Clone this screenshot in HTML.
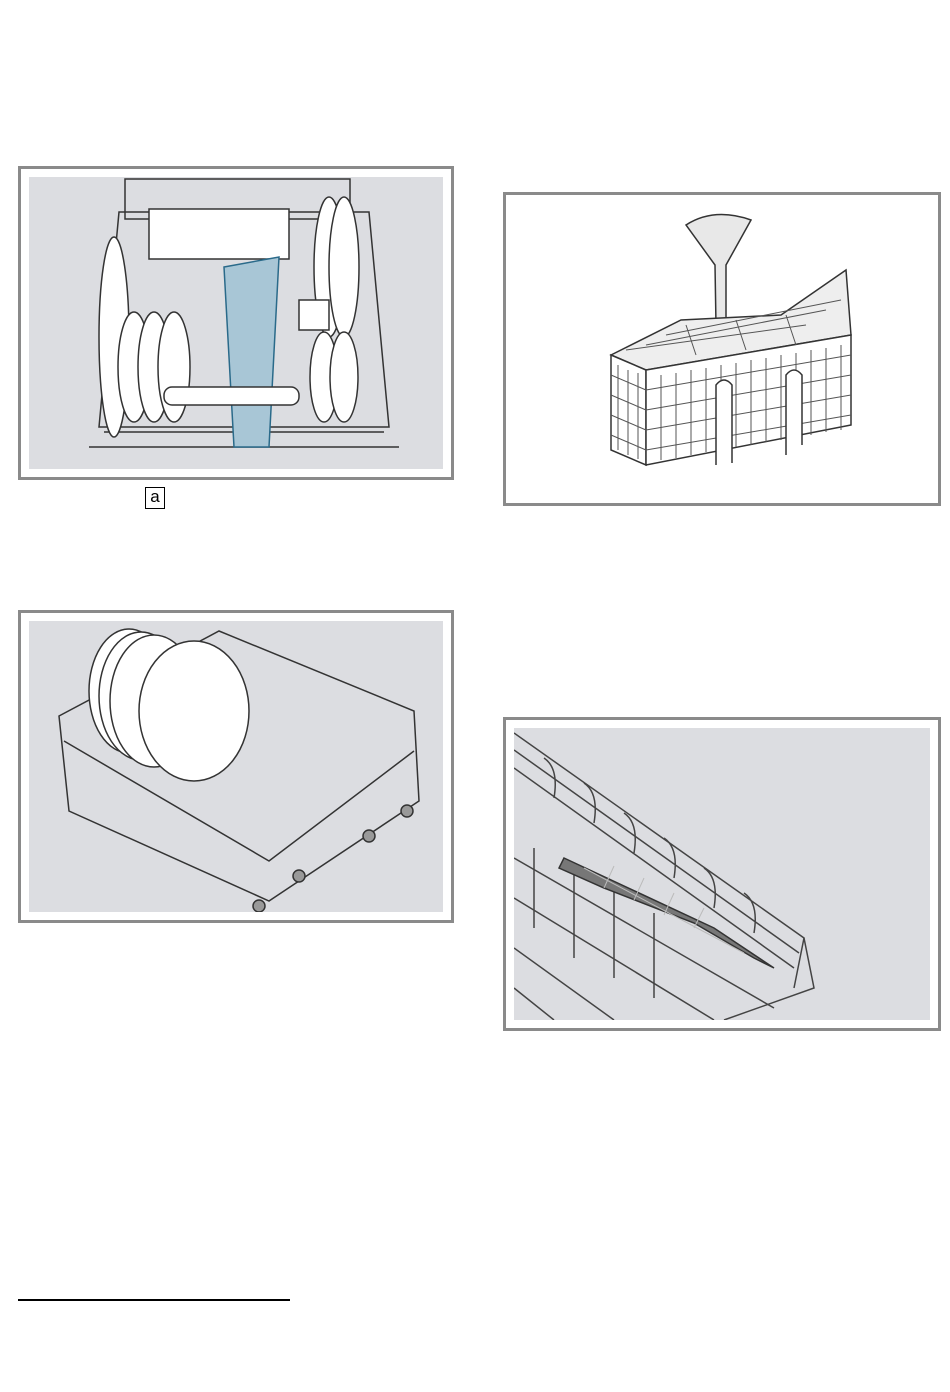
<!DOCTYPE html>
<html><head><meta charset="utf-8"><style>
body{margin:0;width:950px;height:1392px;background:#fff;position:relative;overflow:hidden;font-family:"Liberation Sans",sans-serif}
.f{position:absolute;border:3px solid #8a8a8a;box-sizing:border-box;background:#fff}
.g{position:absolute;background:#dcdde1}
</style></head><body>
<div class="f" style="left:18px;top:166px;width:436px;height:314px"></div>
<div class="g" style="left:29px;top:177px;width:414px;height:292px"></div>
<svg style="position:absolute;left:29px;top:177px" width="414" height="292" fill="none" stroke="#333" stroke-width="1.5">
<rect x="96" y="2" width="225" height="40"/>
<path d="M90 35 L70 250 L360 250 L340 35 Z"/>
<path d="M60 270 L370 270 M75 255 L355 255"/>
<rect x="120" y="32" width="140" height="50" fill="#fff"/>
<ellipse cx="85" cy="160" rx="15" ry="100" fill="#fff"/>
<ellipse cx="300" cy="90" rx="15" ry="70" fill="#fff"/>
<ellipse cx="315" cy="90" rx="15" ry="70" fill="#fff"/>
<ellipse cx="105" cy="190" rx="16" ry="55" fill="#fff"/>
<ellipse cx="125" cy="190" rx="16" ry="55" fill="#fff"/>
<ellipse cx="145" cy="190" rx="16" ry="55" fill="#fff"/>
<ellipse cx="295" cy="200" rx="14" ry="45" fill="#fff"/>
<ellipse cx="315" cy="200" rx="14" ry="45" fill="#fff"/>
<path d="M195 90 L250 80 L240 270 L205 270 Z" fill="#a8c6d6" stroke="#2a6a8a"/>
<rect x="135" y="210" width="135" height="18" rx="8" fill="#fff"/>
<rect x="270" y="123" width="30" height="30" fill="#fff"/>
</svg>
<div style="position:absolute;left:145px;top:487px;width:20px;height:22px;border:1px solid #000;box-sizing:border-box;font-size:17px;line-height:18px;text-align:center">a</div>

<div class="f" style="left:503px;top:192px;width:438px;height:314px"></div>
<svg style="position:absolute;left:506px;top:195px" width="432" height="308" fill="none" stroke="#333" stroke-width="1.5">
<path d="M209 70 L180 30 Q208 12 245 25 L220 70 L220 130 L210 130 Z" fill="#e8e8e8"/>
<path d="M105 160 L175 125 L275 120 L340 75 L345 140 L140 175 Z" fill="#eee"/>
<path d="M105 160 L140 175 L140 270 L105 255 Z" fill="#fff"/>
<path d="M140 175 L345 140 L345 230 L140 270 Z" fill="#fff"/>
<g stroke="#555" stroke-width="1">
<path d="M155 180 V265 M170 178 V263 M185 175 V260 M200 173 V257 M215 170 V255 M230 168 V252 M245 165 V250 M260 163 V247 M275 160 V245 M290 158 V242 M305 155 V240 M320 153 V237 M335 150 V235"/>
<path d="M140 195 L345 160 M140 215 L345 180 M140 235 L345 200 M140 255 L345 220"/>
<path d="M112 170 V255 M122 175 V260 M132 178 V264 M105 180 L140 195 M105 200 L140 215 M105 220 L140 235 M105 240 L140 255"/>
<path d="M120 155 L300 130 M140 150 L320 115 M160 140 L335 105 M180 130 L190 160 M230 125 L240 155 M280 120 L290 150"/>
</g>
<path d="M210 270 L210 190 Q218 180 226 190 L226 268 M280 260 L280 180 Q288 170 296 180 L296 250" fill="#fff"/>
</svg>

<div class="f" style="left:18px;top:610px;width:436px;height:313px"></div>
<div class="g" style="left:29px;top:621px;width:414px;height:291px"></div>
<svg style="position:absolute;left:29px;top:621px" width="414" height="291" fill="none" stroke="#333" stroke-width="1.5">
<path d="M30 95 L190 10 L385 90 L390 180 L240 280 L40 190 Z"/>
<path d="M35 120 L240 240 L385 130"/>
<ellipse cx="100" cy="70" rx="40" ry="62" fill="#fff"/>
<ellipse cx="112" cy="75" rx="42" ry="64" fill="#fff"/>
<ellipse cx="125" cy="80" rx="44" ry="66" fill="#fff"/>
<ellipse cx="165" cy="90" rx="55" ry="70" fill="#fff"/>
<circle cx="230" cy="285" r="6" fill="#999"/><circle cx="270" cy="255" r="6" fill="#999"/>
<circle cx="340" cy="215" r="6" fill="#999"/><circle cx="378" cy="190" r="6" fill="#999"/>
</svg>

<div class="f" style="left:503px;top:717px;width:438px;height:314px"></div>
<div class="g" style="left:514px;top:728px;width:416px;height:292px"></div>
<svg style="position:absolute;left:514px;top:728px" width="416" height="292" fill="none" stroke="#444" stroke-width="1.5">
<path d="M0 5 L290 210 L280 260"/>
<path d="M0 22 L285 225 M0 40 L280 240"/>
<path d="M30 30 Q45 40 40 70 M70 55 Q85 65 80 95 M110 85 Q125 95 120 125 M150 110 Q165 120 160 150 M190 140 Q205 150 200 180 M230 165 Q245 175 240 205"/>
<path d="M0 130 L260 280 M0 170 L200 292 M0 220 L100 292 M0 260 L40 292"/>
<path d="M20 120 L20 200 M60 140 L60 230 M100 160 L100 250 M140 185 L140 270"/>
<path d="M290 210 L300 260 L210 292"/>
<path d="M50 130 L200 200 L260 240 L240 230 L180 195 L90 160 L45 140 Z" fill="#777" stroke="#333"/>
<path d="M70 140 L230 225 M100 138 L90 160 M130 150 L120 172 M160 165 L150 187 M190 180 L180 200" stroke="#bbb" stroke-width="1"/>
</svg>

<div style="position:absolute;left:18px;top:1299px;width:272px;height:2px;background:#000"></div>
</body></html>
